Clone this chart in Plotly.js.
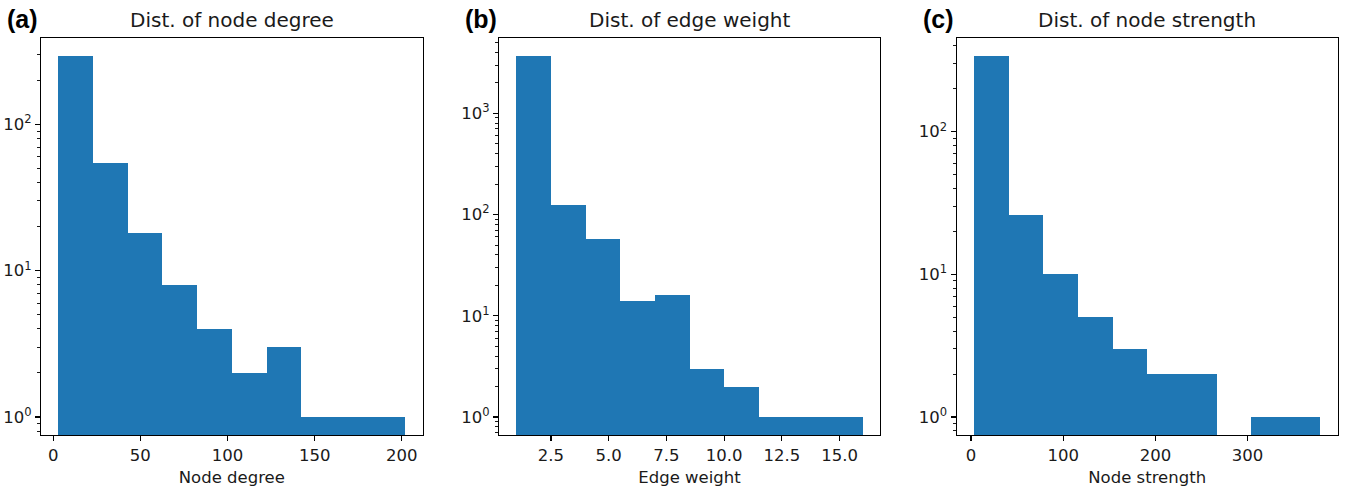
<!DOCTYPE html>
<html>
<head>
<meta charset="utf-8">
<script src="https://cdn.plot.ly/plotly-3.0.1.min.js"></script>
<style>html,body{margin:0;padding:0;background:#fff;}#chart{width:1352px;height:496px;}</style>
</head>
<body>
<div id="chart"></div>
<script>
// ---- data ----
const panelLabels = ['(a)', '(b)', '(c)'];
const panelTitles = ['Dist. of node degree', 'Dist. of edge weight', 'Dist. of node strength'];
const xAxisTitles = ['Node degree', 'Edge weight', 'Node strength'];

const degreeCounts = [294, 54, 18, 8, 4, 2, 3, 1, 1, 1];
const degreeBinStart = 3, degreeBinEnd = 202;

const weightCounts = [3707, 123, 57, 14, 16, 3, 2, 1, 1, 1];
const weightBinStart = 1, weightBinEnd = 16;

const strengthCounts = [341, 26, 10, 5, 3, 2, 2, 0, 1, 1];
const strengthBinStart = 3.3, strengthBinEnd = 379;

const yTickVals = [1, 10, 100, 1000];
const yTickText = ['10<sup>0</sup>', '10<sup>1</sup>', '10<sup>2</sup>', '10<sup>3</sup>'];

// ---- build ----
const FONT = 'DejaVu Sans, sans-serif';
const BLUE = '#1f77b4';

function histTrace(counts, start, end, ax) {
  const n = counts.length, w = (end - start) / n;
  const lefts = counts.map((_, i) => start + i * w);
  return {
    type: 'bar', x: lefts, y: counts.map(c => c > 0 ? c : null),
    width: counts.map(() => w), offset: 0,
    marker: {color: BLUE, line: {width: 0}},
    xaxis: ax.x, yaxis: ax.y, hoverinfo: 'x+y', showlegend: false
  };
}

const traces = [
  histTrace(degreeCounts, degreeBinStart, degreeBinEnd, {x: 'x', y: 'y'}),
  histTrace(weightCounts, weightBinStart, weightBinEnd, {x: 'x2', y: 'y2'}),
  histTrace(strengthCounts, strengthBinStart, strengthBinEnd, {x: 'x3', y: 'y3'})
];

// minor tick positions on the log axes (2..9 of each decade)
const minorVals = [];
[0.1, 1, 10, 100, 1000].forEach(d => { for (let k = 2; k <= 9; k++) minorVals.push(k * d); });

const W = 1352, H = 496;
const xDomains = [[41, 422.7], [499, 880], [956.7, 1337.7]];
const yDom = [1 - 435 / H, 1 - 37.7 / H];
const xRanges = [[-7, 212], [0.25, 16.75], [-15.5, 397.7]];
const yRanges = [[-0.123, 2.592], [-0.178, 3.747], [-0.126, 2.659]];
const xTickCfg = [
  {tick0: 0, dtick: 50},
  {tick0: 2.5, dtick: 2.5, tickformat: '.1f'},
  {tick0: 0, dtick: 100}
];

const TXT = '#1a1a1a';
const tickFont = {family: FONT, size: 16.5, color: TXT};
const layout = {
  width: W, height: H, margin: {l: 0, r: 0, t: 0, b: 0},
  paper_bgcolor: '#fff', plot_bgcolor: '#fff',
  bargap: 0, showlegend: false, annotations: []
};

for (let i = 0; i < 3; i++) {
  const s = i === 0 ? '' : String(i + 1);
  layout['xaxis' + s] = Object.assign({
    domain: [xDomains[i][0] / W, xDomains[i][1] / W], range: xRanges[i],
    anchor: 'y' + s, showgrid: false, zeroline: false,
    showline: true, mirror: true, linecolor: '#000', linewidth: 1.2,
    ticks: 'outside', ticklen: 5, tickwidth: 1.1, tickcolor: '#000',
    tickmode: 'linear', tickfont: tickFont,
    title: {text: xAxisTitles[i], font: {family: FONT, size: 16.5, color: TXT}, standoff: 7}
  }, xTickCfg[i]);
  layout['yaxis' + s] = {
    domain: yDom, type: 'log', range: yRanges[i], anchor: 'x' + s,
    showgrid: false, zeroline: false,
    showline: true, mirror: true, linecolor: '#000', linewidth: 1.2,
    ticks: 'outside', ticklen: 5, tickwidth: 1.1, tickcolor: '#000',
    tickmode: 'array', tickvals: yTickVals, ticktext: yTickText, tickfont: tickFont,
    minor: {tickmode: 'array', tickvals: minorVals, ticks: 'outside', ticklen: 3, tickwidth: 0.9, tickcolor: '#000', showgrid: false}
  };
  const cx = (xDomains[i][0] + xDomains[i][1]) / 2 / W;
  layout.annotations.push({
    text: panelTitles[i], xref: 'paper', yref: 'paper', x: cx, y: 1 - 20 / H,
    xanchor: 'center', yanchor: 'middle', showarrow: false,
    font: {family: FONT, size: 20, color: TXT}
  });
  layout.annotations.push({
    text: '<b>' + panelLabels[i] + '</b>', xref: 'paper', yref: 'paper',
    x: (xDomains[i][0] - 36) / W, y: 1 - 19 / H,
    xanchor: 'left', yanchor: 'middle', showarrow: false,
    font: {family: 'Liberation Sans, Arial, sans-serif', size: 25, color: '#000'}
  });
}

Plotly.newPlot('chart', traces, layout, {staticPlot: true, displayModeBar: false});
</script>
</body>
</html>
